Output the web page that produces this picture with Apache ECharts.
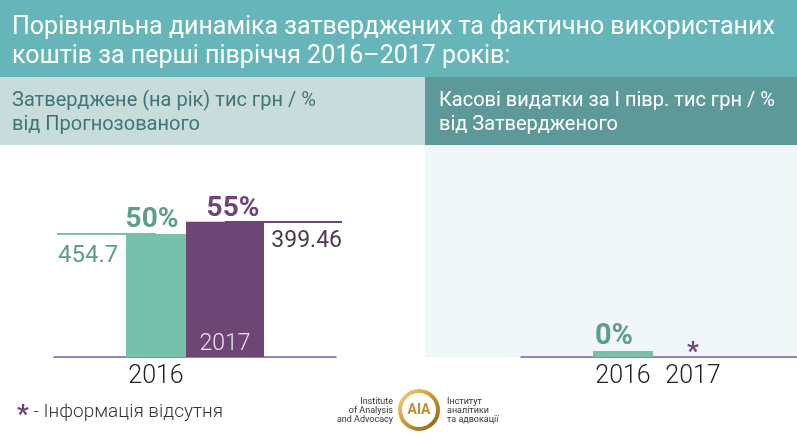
<!DOCTYPE html>
<html><head><meta charset="utf-8">
<script src="https://cdn.jsdelivr.net/npm/echarts@6/dist/echarts.min.js"></script>
<style>html,body{margin:0;padding:0;background:#fff}#c{width:797px;height:436px}</style>
</head><body><div id="c"></div>
<script>
// ---- data ----
const years = ['2016', '2017'];
const approvedPct = [50, 55];             // Затверджене, % від Прогнозованого
const approvedAmount = ['454.7', '399.46']; // тис грн
const spentPct = [0, null];               // Касові видатки, % від Затвердженого (2017 – інформація відсутня)
const groups = ['Затверджене', 'Касові видатки'];

const titleText = 'Порівняльна динаміка затверджених та фактично використаних\nкоштів за перші півріччя 2016–2017 років:';
const leftHeader = 'Затверджене (на рік) тис грн / %\nвід Прогнозованого';
const rightHeader = 'Касові видатки за І півр. тис грн / %\nвід Затвердженого';
const noteText = ' - Інформація відсутня';

// ---- style ----
const FONT = 'Roboto';
const TEAL = '#75c1a9', PURPLE = '#6d4676';
const TEAL_TXT = '#5b9f89', AMT2_TXT = '#4a3b4e';
const AXIS = '#6b5da1';

const chart = echarts.init(document.getElementById('c'), null, {renderer: 'canvas'});

function pctLabel(color, size, dist, dx) {
  return {show: true, position: 'top', distance: dist, offset: [dx, 0],
    formatter: p => (p.value == null ? '' : p.value + '%'),
    fontFamily: FONT, fontWeight: 'bold', fontSize: size, color: color};
}
function yearLabel(text, position, color, dist) {
  return {show: true, position: position, distance: dist, formatter: text,
    fontFamily: FONT, fontWeight: 300, fontSize: 25, color: color};
}
const hiddenSymbol = {symbol: 'circle', symbolSize: 1, silent: true, itemStyle: {color: 'rgba(0,0,0,0)'}};

const option = {
  animation: false,
  backgroundColor: '#ffffff',
  graphic: [
    {type: 'rect', shape: {x: 0, y: 0, width: 797, height: 77}, style: {fill: '#66b5b8'}, silent: true},
    {type: 'rect', shape: {x: 0, y: 77, width: 425, height: 68}, style: {fill: '#c7dcdb'}, silent: true},
    {type: 'rect', shape: {x: 425, y: 77, width: 372, height: 68}, style: {fill: '#5e999a'}, silent: true},
    {type: 'rect', shape: {x: 425, y: 145, width: 372, height: 212}, style: {fill: '#f1f6f9'}, silent: true},
    // logo
    {type: 'text', x: 393, y: 397, style: {text: 'Institute\nof Analysis\nand Advocacy', align: 'right',
      font: '9px Roboto', fill: '#333', lineHeight: 9}, silent: true},
    {type: 'circle', shape: {cx: 419, cy: 410, r: 19}, style: {fill: '#fff',
      stroke: new echarts.graphic.LinearGradient(0, 0, 1, 1, [{offset: 0, color: '#f7dc84'}, {offset: 0.5, color: '#c8962e'}, {offset: 1, color: '#8a5a12'}]),
      lineWidth: 4}, silent: true},
    {type: 'text', x: 419, y: 410, style: {text: 'AIA', align: 'center', verticalAlign: 'middle',
      font: 'bold 14px Roboto', fill: '#c08d2a'}, silent: true},
    {type: 'text', x: 447, y: 397, style: {text: 'Інститут\nаналітики\nта адвокації', align: 'left',
      font: '9px Roboto', fill: '#333', lineHeight: 9}, silent: true}
  ],
  title: [
    {text: titleText, left: 12, top: 13, padding: 0,
      textStyle: {color: '#ffffff', fontFamily: FONT, fontWeight: 'normal', fontSize: 25, lineHeight: 29}},
    {text: leftHeader, left: 12, top: 89, padding: 0,
      textStyle: {color: '#3e7677', fontFamily: FONT, fontWeight: 'normal', fontSize: 20, lineHeight: 24}},
    {text: rightHeader, left: 439, top: 89, padding: 0,
      textStyle: {color: '#ffffff', fontFamily: FONT, fontWeight: 'normal', fontSize: 20, lineHeight: 24}},
    {text: '{a|*}{b|' + noteText + '}', left: 17, top: 402, padding: 0,
      textStyle: {rich: {
        a: {color: PURPLE, fontFamily: FONT, fontWeight: 'bold', fontSize: 26, lineHeight: 20, padding: [8, 0, 0, 0]},
        b: {color: '#333', fontFamily: FONT, fontWeight: 300, fontSize: 19, lineHeight: 20}
      }}}
  ],
  grid: [
    {left: 54, width: 282, top: 111, bottom: 79, outerBoundsMode: 'none'},
    {left: 521, width: 284, top: 111, bottom: 79, outerBoundsMode: 'none'}
  ],
  xAxis: [
    {type: 'category', gridIndex: 0, data: [groups[0]], axisTick: {show: false}, axisLabel: {show: false},
      axisLine: {lineStyle: {color: AXIS, width: 1.5}}},
    {type: 'category', gridIndex: 1, data: [groups[1]], axisTick: {show: false}, axisLabel: {show: false},
      axisLine: {lineStyle: {color: AXIS, width: 1.5}}}
  ],
  yAxis: [
    {type: 'value', gridIndex: 0, min: 0, max: 100, show: false},
    {type: 'value', gridIndex: 1, min: 0, max: 100, show: false}
  ],
  series: [
    {
      name: years[0], type: 'bar', xAxisIndex: 0, yAxisIndex: 0, data: [approvedPct[0]],
      barWidth: 60, barGap: 0, z: 3, itemStyle: {color: TEAL},
      label: pctLabel(TEAL_TXT, 28, 0, -4),
      markLine: {
        silent: true, symbol: 'none', z: 1, animation: false,
        lineStyle: {color: TEAL, width: 2, type: 'solid'},
        label: {show: true, position: 'insideStartBottom', distance: [1, 10], formatter: approvedAmount[0],
          fontFamily: FONT, fontSize: 24, color: TEAL_TXT},
        data: [[{x: 57, yAxis: approvedPct[0]}, {xAxis: 0, yAxis: approvedPct[0]}]]
      },
      markPoint: Object.assign({}, hiddenSymbol, {
        data: [{coord: [0, 0], label: yearLabel(years[0], 'bottom', '#222', 7)}]
      })
    },
    {
      name: years[1], type: 'bar', xAxisIndex: 0, yAxisIndex: 0, data: [approvedPct[1]],
      barWidth: 78, barGap: 0, z: 3, itemStyle: {color: PURPLE},
      label: pctLabel(PURPLE, 28, -1, 8),
      markLine: {
        silent: true, symbol: 'none', z: 1, animation: false,
        lineStyle: {color: PURPLE, width: 2, type: 'solid'},
        label: {show: true, position: 'insideEndBottom', distance: [0, 8], formatter: approvedAmount[1],
          fontFamily: FONT, fontSize: 23, color: AMT2_TXT},
        data: [[{xAxis: 0, yAxis: approvedPct[1]}, {x: 342, yAxis: approvedPct[1]}]]
      },
      markPoint: Object.assign({}, hiddenSymbol, {
        data: [{coord: [0, 0], label: Object.assign(yearLabel(years[1], 'top', '#ece3ef', 1), {fontSize: 23})}]
      })
    },
    {
      name: years[0], type: 'bar', xAxisIndex: 1, yAxisIndex: 1, data: [spentPct[0]],
      barWidth: 60, barGap: 0, barMinHeight: 6, z: 3, itemStyle: {color: TEAL},
      label: pctLabel(TEAL_TXT, 29, 0, -9),
      markPoint: Object.assign({}, hiddenSymbol, {
        data: [{coord: [0, 0], label: yearLabel(years[0], 'bottom', '#222', 7)}]
      })
    },
    {
      name: years[1], type: 'bar', xAxisIndex: 1, yAxisIndex: 1,
      data: [spentPct[1] == null ? '-' : spentPct[1]],
      barWidth: 80, barGap: 0, barMinHeight: 6, z: 3, itemStyle: {color: PURPLE},
      label: pctLabel(PURPLE, 29, 0, 0),
      markPoint: Object.assign({}, hiddenSymbol, {
        data: [
          {coord: [0, 0], label: yearLabel(years[1], 'bottom', '#222', 7)},
          {coord: [0, 0], label: {show: spentPct[1] == null, position: 'top', distance: -10, formatter: '*',
            fontFamily: FONT, fontWeight: 'bold', fontSize: 26, color: PURPLE}}
        ]
      })
    }
  ]
};
chart.setOption(option);
</script>
</body></html>
